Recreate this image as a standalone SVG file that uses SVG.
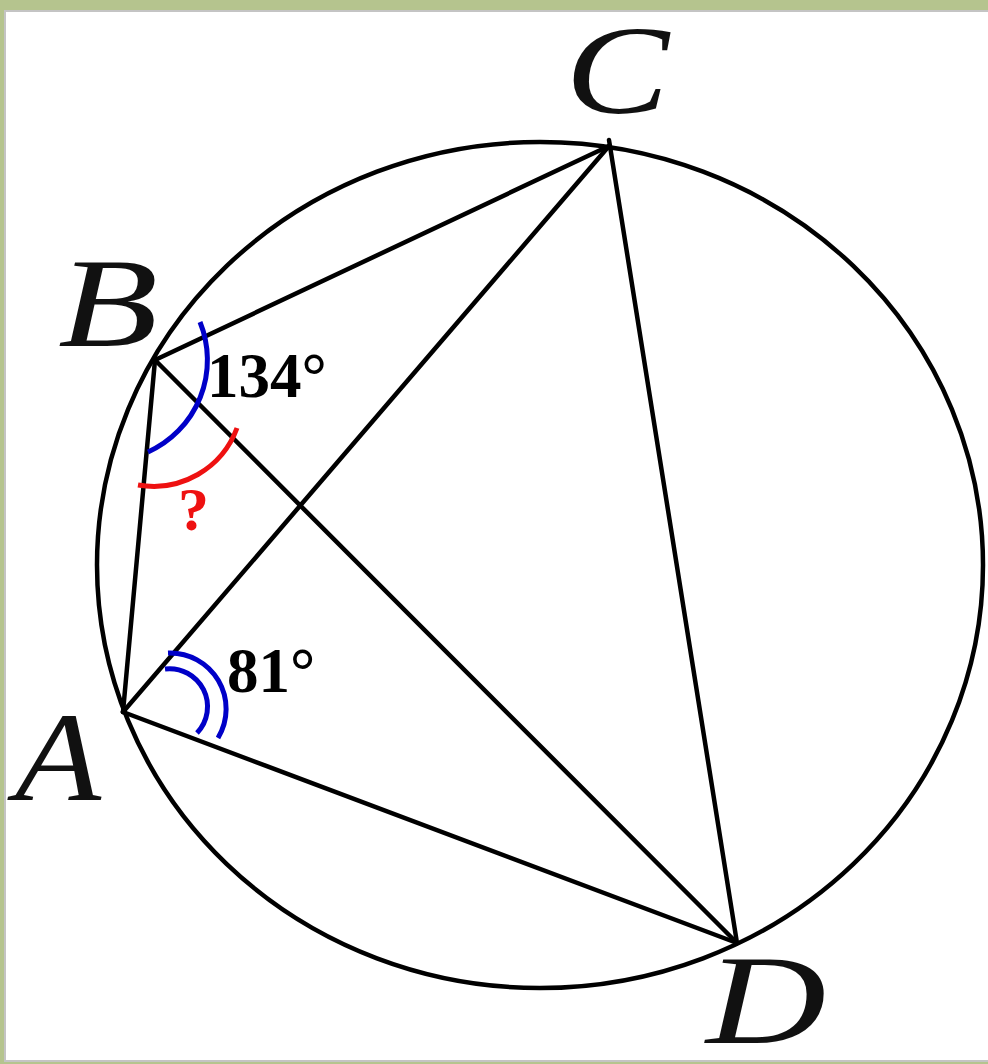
<svg xmlns="http://www.w3.org/2000/svg" width="988" height="1064" viewBox="0 0 988 1064">
  <style>
    .ln { stroke: #000; stroke-width: 4.5; fill: none; stroke-linecap: round; }
    .lbl { font-family: "Liberation Serif", "Times New Roman", serif; font-style: italic; font-size: 128px; fill: #111; }
    .deg { font-family: "Liberation Serif", "Times New Roman", serif; font-weight: bold; font-size: 63px; fill: #000; }
    .blue { stroke: #0000c8; stroke-width: 5; fill: none; }
    .red { stroke: #ee1111; stroke-width: 5; fill: none; }
  </style>
  <rect x="0" y="0" width="988" height="1064" fill="#b5c48e"/>
  <rect x="5" y="11" width="990" height="1050" fill="#ffffff" stroke="#c4c4c4" stroke-width="2"/>

  <g id="circle">
    <ellipse cx="540" cy="565" rx="443" ry="423" class="ln"/>
  </g>

  <g id="connectors">
    <line x1="155" y1="360" x2="609" y2="146" class="ln"/>
    <line x1="123" y1="712" x2="609" y2="146" class="ln"/>
    <line x1="155" y1="360" x2="737" y2="943" class="ln"/>
    <line x1="123" y1="712" x2="737" y2="943" class="ln"/>
    <line x1="609" y1="140" x2="737" y2="943" class="ln"/>
    <line x1="155" y1="360" x2="123" y2="712" class="ln"/>
  </g>

  <g id="angleB">
    <path d="M200,322 A101,101 0 0 1 148,452" class="blue"/>
    <path d="M237,428 A89,89 0 0 1 138,485" class="red"/>
    <text x="207" y="397" class="deg">134°</text>
    <text x="178" y="530" class="deg" style="fill:#ee1111;font-size:62px">?</text>
  </g>

  <g id="angleA">
    <path d="M168,653 A56,56 0 0 1 218,738" class="blue"/>
    <path d="M165,669 A38,38 0 0 1 197,733" class="blue"/>
    <text x="227" y="692" class="deg">81°</text>
  </g>

  <g id="labels">
    <text id="lblA" transform="translate(15,800) scale(1.1,1)" class="lbl">A</text>
    <text id="lblB" transform="translate(58,346) scale(1.28,1)" class="lbl">B</text>
    <text id="lblC" transform="translate(565,113) scale(1.22,1)" class="lbl">C</text>
    <text id="lblD" transform="translate(706,1043) scale(1.3,1)" class="lbl">D</text>
  </g>
</svg>
